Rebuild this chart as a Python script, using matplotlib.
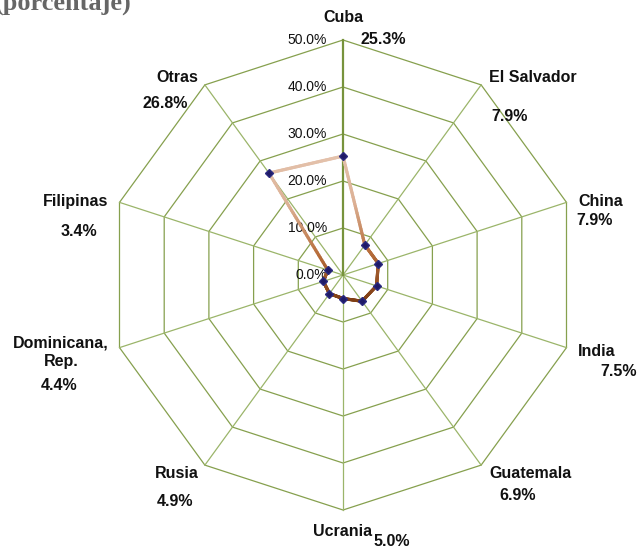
import numpy as np
import matplotlib
matplotlib.use('Agg')
import matplotlib.pyplot as plt
from matplotlib.collections import LineCollection
from matplotlib.colors import LinearSegmentedColormap

# data
countries = ['Cuba', 'El Salvador', 'China', 'India', 'Guatemala',
             'Ucrania', 'Rusia', 'Dominicana,\nRep.', 'Filipinas', 'Otras']
shares = [25.3, 7.9, 7.9, 7.5, 6.9, 5.0, 4.9, 4.4, 3.4, 26.8]
rings = [0, 10, 20, 30, 40, 50]

# label positions in pixels (name centre, value centre)
name_pos = [(343, 18), (533, 77), (601, 201), (597, 351), (531, 474),
            (343, 531), (177, 474), (61, 352), (76, 201), (177, 77)]
value_pos = [(383, 40), (510, 117), (595, 220), (619, 371), (518, 495),
             (392, 541), (175, 502), (59, 386), (79, 231), (165, 104)]

W, H = 641, 548
GRID = '#86a04e'

plt.rcParams['font.family'] = ['Liberation Sans', 'DejaVu Sans']


def main() -> None:
    fig = plt.figure(figsize=(W / 100, H / 100), dpi=100)
    ax = fig.add_axes([108 / W, 38 / H, 470 / W, 470 / H], projection='polar')
    ax.set_theta_zero_location('N')
    ax.set_theta_direction(-1)
    ax.axis('off')

    n = len(countries)
    theta = np.arange(n) * 2 * np.pi / n
    theta_c = np.append(theta, theta[0])

    # polygon grid
    for r in rings[1:]:
        ax.plot(theta_c, [r] * (n + 1), color=GRID, lw=0.9, clip_on=False, zorder=1)
    for i, t in enumerate(theta):
        if i == 0:
            ax.plot([t, t], [0, 50], color='#77933c', lw=1.6, clip_on=False, zorder=2)
        else:
            ax.plot([t, t], [0, 50], color='#9bb56a', lw=0.9, clip_on=False, zorder=1)

    # radial tick labels
    for r in rings:
        ax.annotate(f'{r:.1f}%', xy=(0, r), xytext=(-11.5, 0), textcoords='offset points',
                    ha='right', va='center', fontsize=10, color='#111111')

    # data line with vertical colour gradient
    vals = np.append(shares, shares[0])
    xs = vals * np.sin(theta_c)
    ys = vals * np.cos(theta_c)
    px, py = [], []
    for k in range(n):
        tt = np.linspace(0, 1, 40)
        px.extend(xs[k] + (xs[k + 1] - xs[k]) * tt)
        py.extend(ys[k] + (ys[k + 1] - ys[k]) * tt)
    px, py = np.array(px), np.array(py)
    pth = np.arctan2(px, py)
    pr = np.hypot(px, py)
    pts = np.column_stack([pth, pr]).reshape(-1, 1, 2)
    segs = np.concatenate([pts[:-1], pts[1:]], axis=1)
    ymid = (py[:-1] + py[1:]) / 2
    cmap = LinearSegmentedColormap.from_list('brown', ['#7e3d14', '#b86e3c', '#dcb094', '#e4c2ac'])
    lc = LineCollection(segs, cmap=cmap, linewidths=2.3, capstyle='round', joinstyle='round', zorder=3)
    lc.set_array(ymid)
    lc.set_clim(py.min(), py.max())
    ax.add_collection(lc)

    ax.plot(theta, shares, 'D', color='#1f1a66', markeredgecolor='#2b2a80',
            markersize=4.5, zorder=4, clip_on=False)
    ax.set_ylim(0, 50)

    # category names and values
    for name, (x, y) in zip(countries, name_pos):
        fig.text(x / W, 1 - y / H, name, ha='center', va='center', fontsize=11.5,
                 fontweight='bold', color='#111111', linespacing=1.3)
    for v, (x, y) in zip(shares, value_pos):
        fig.text(x / W, 1 - y / H, f'{v:.1f}%', ha='center', va='center', fontsize=11.5,
                 fontweight='bold', color='#111111')

    # title remnant, cut off at the top
    fig.text(132 / W, 1 - 9.5 / H, '(porcentaje)', ha='right', va='baseline',
             fontsize=19, fontweight='bold', color='#666666', family='Liberation Serif')

    fig.savefig('out.png', dpi=100)


if __name__ == '__main__':
    main()
